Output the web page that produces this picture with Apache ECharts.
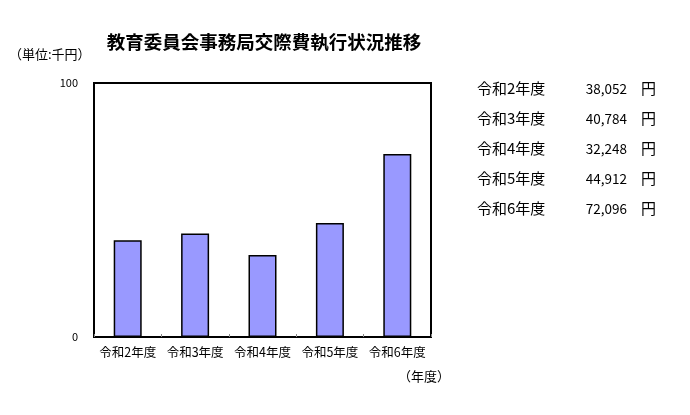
<!DOCTYPE html>
<html><head><meta charset="utf-8">
<script src="https://cdn.jsdelivr.net/npm/echarts@6/dist/echarts.min.js"></script>
<style>html,body{margin:0;padding:0;background:#fff}#c{width:690px;height:415px}</style>
</head><body><div id="c"></div>
<script>
var categories = ['令和2年度','令和3年度','令和4年度','令和5年度','令和6年度'];
var valuesThousandYen = [38.052, 40.784, 32.248, 44.912, 72.096];
var tableLabels = ['令和2年度','令和3年度','令和4年度','令和5年度','令和6年度'];
var tableValues = ['38,052','40,784','32,248','44,912','72,096'];
var FONT = '"Noto Sans CJK JP", sans-serif';

var graphics = [];
tableLabels.forEach(function(l, i){
  graphics.push({type:'text', left:477, top:81 + i*30, style:{text:l, font:'15px ' + FONT, fill:'#000'}});
  graphics.push({type:'text', right:63, top:82 + i*30, style:{text:tableValues[i], font:'13.5px ' + FONT, fill:'#000', textAlign:'right'}});
  graphics.push({type:'text', left:641, top:81 + i*30, style:{text:'円', font:'15px ' + FONT, fill:'#000'}});
});
graphics.push({type:'text', left:9, top:48, style:{text:'（単位:千円）', font:'13px ' + FONT, fill:'#000'}});
graphics.push({type:'text', left:398, top:370, style:{text:'（年度）', font:'13px ' + FONT, fill:'#000'}});

var chart = echarts.init(document.getElementById('c'));
chart.setOption({
  animation:false,
  backgroundColor:'#fff',
  title:{text:'教育委員会事務局交際費執行状況推移', left:259, textAlign:'center', top:28,
    textStyle:{fontFamily:FONT, fontSize:18.5, fontWeight:'bold', color:'#000'}},
  grid:{left:94, top:83, width:337, height:254, show:true, borderColor:'#000', borderWidth:2, backgroundColor:'transparent'},
  xAxis:{type:'category', data:categories,
    axisLine:{show:true, lineStyle:{color:'#000', width:2}},
    axisTick:{show:true, inside:true, length:3, lineStyle:{color:'#888'}},
    axisLabel:{interval:0, fontFamily:FONT, fontSize:12.5, color:'#000', margin:9}},
  yAxis:{type:'value', min:0, max:100, interval:100,
    axisLine:{show:false}, axisTick:{show:false}, splitLine:{show:false},
    axisLabel:{fontFamily:FONT, fontSize:11, color:'#000', margin:16}},
  series:[{type:'bar', data:valuesThousandYen, barWidth:28,
    itemStyle:{color:'#9999FF', borderColor:'#000', borderWidth:1.5}}],
  graphic:graphics
});
</script></body></html>
